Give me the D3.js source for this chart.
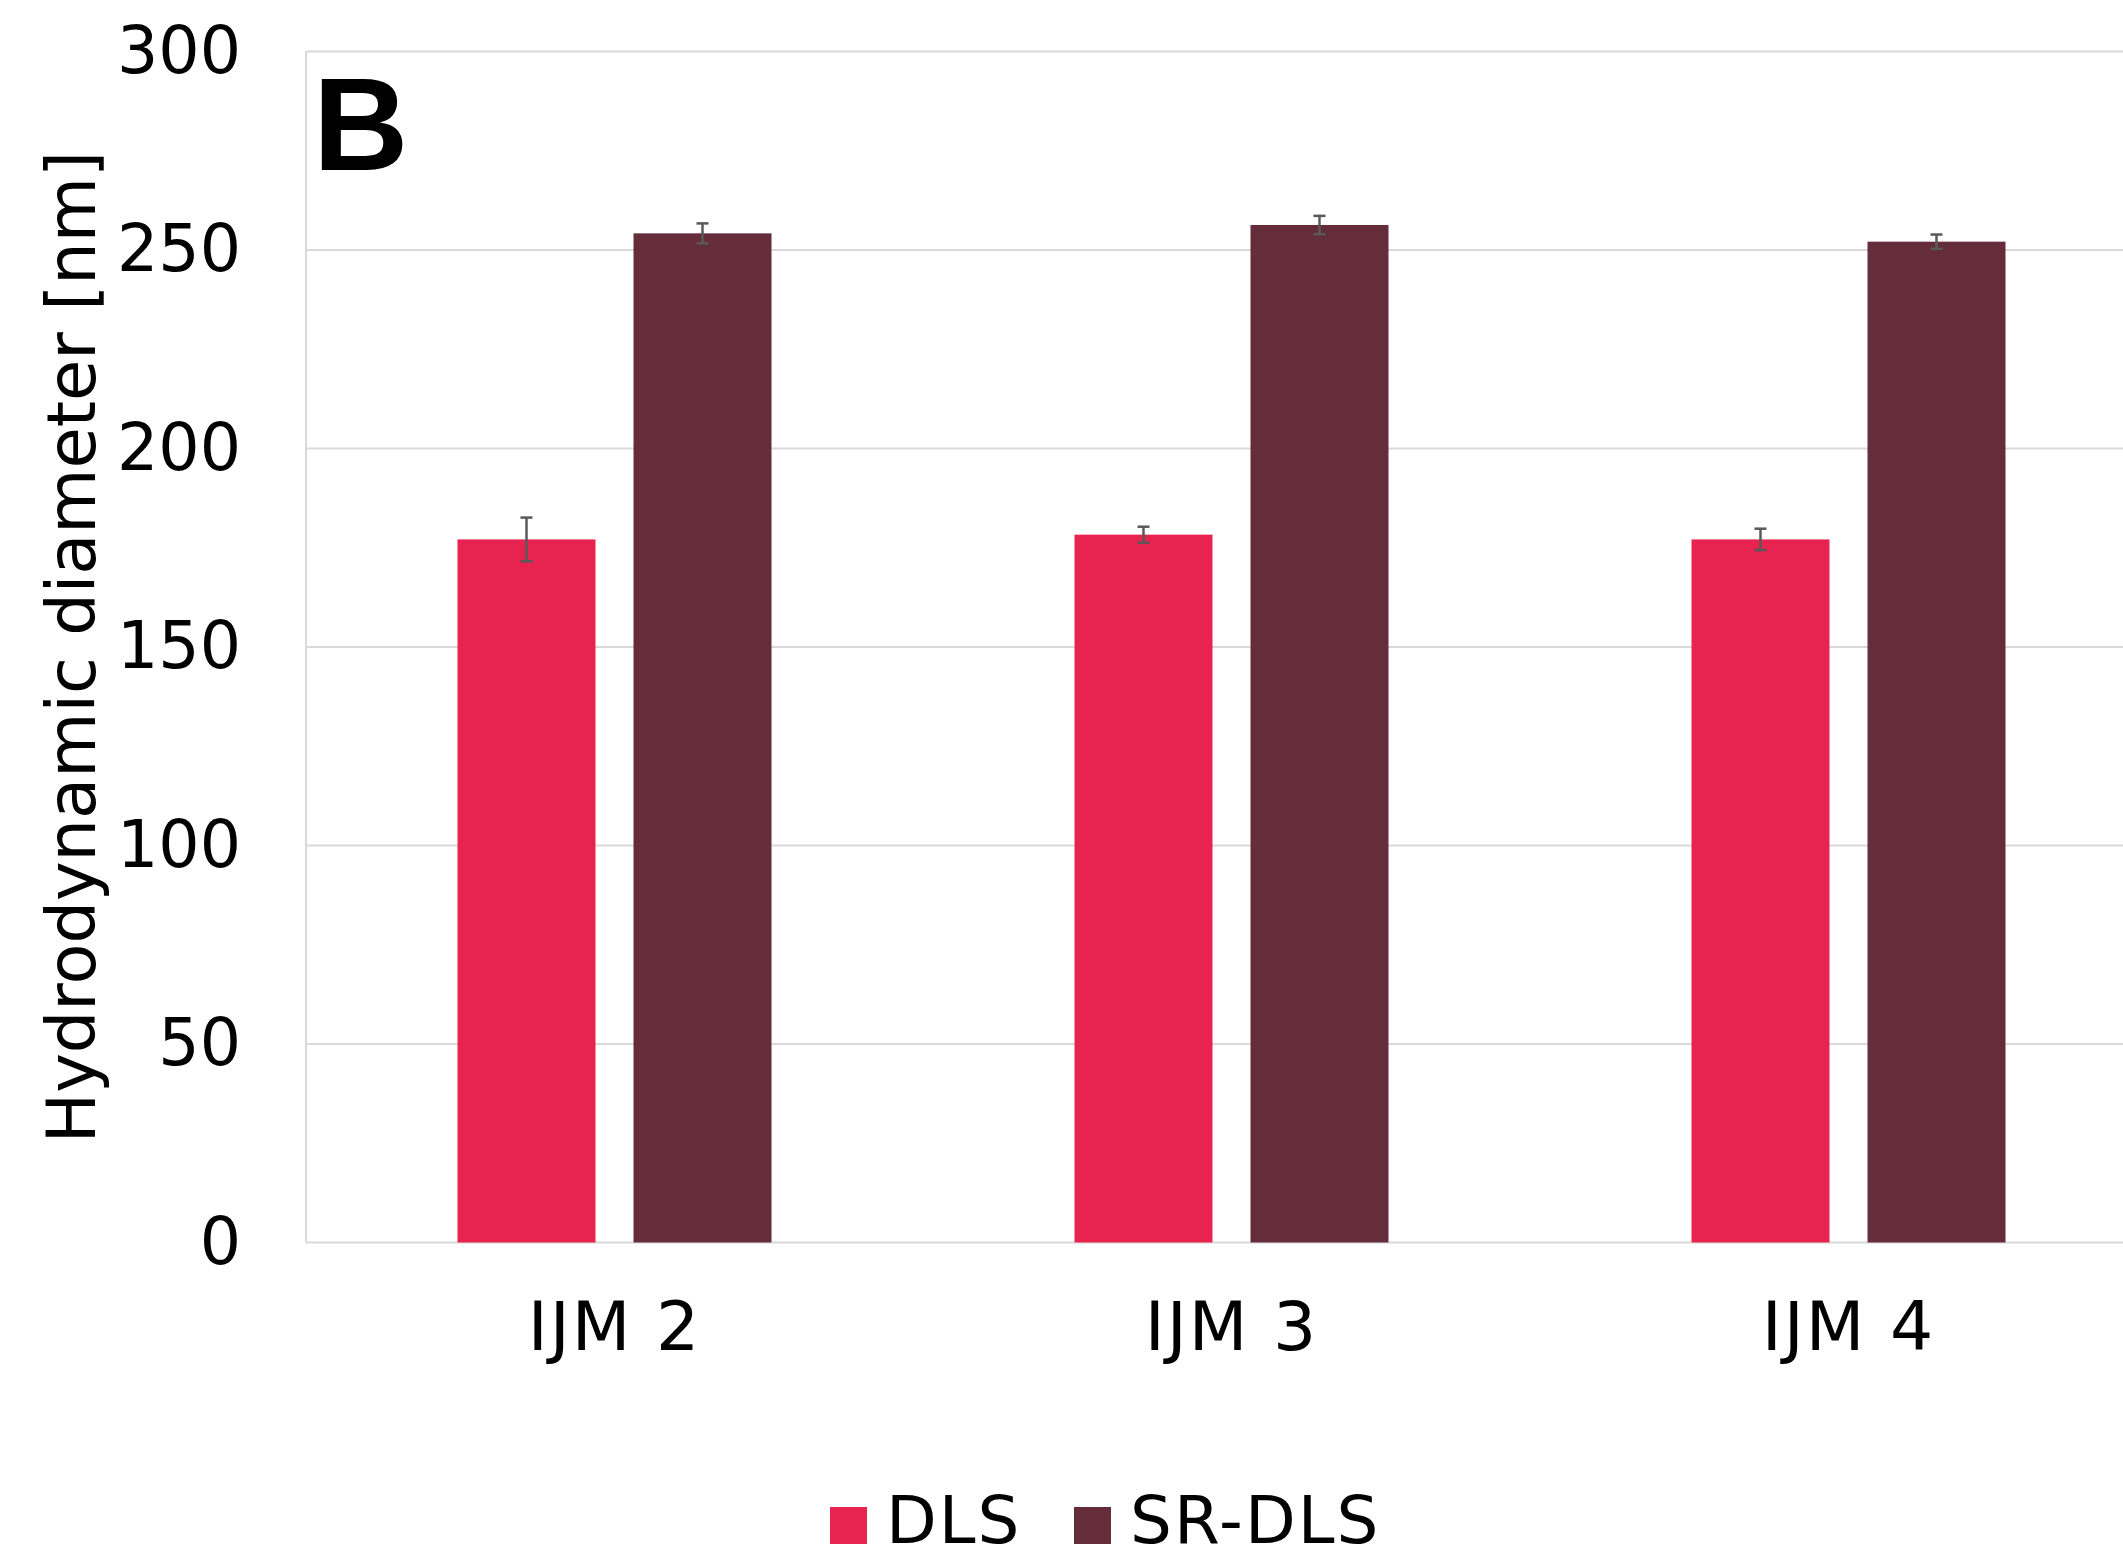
<!DOCTYPE html>
<html>
<head>
<meta charset="utf-8">
<script src="https://cdn.jsdelivr.net/npm/d3@7"></script>
<style>
  body { margin: 0; background: #fff; }
  svg { display: block; }
</style>
</head>
<body>
<svg id="chart"></svg>
<script>
// hydrodynamic diameter, DLS vs SR-DLS
const categories = ["IJM 2", "IJM 3", "IJM 4"];
const series = ["DLS", "SR-DLS"];
const dlsValues = [177.1, 178.3, 177.1];
const dlsErrors = [5.5, 2.0, 2.7];
const srdlsValues = [254.2, 256.3, 252.1];
const srdlsErrors = [2.5, 2.3, 1.8];
const yTicks = [0, 50, 100, 150, 200, 250, 300];

const width = 2123,
  height = 1558,
  margin = { top: 51.5, right: -34, bottom: 315.5, left: 306 };

const colors = d3.scaleOrdinal(series, ["#e8234f", "#652d3a"]);
const font = "'DejaVu Sans', sans-serif";

const data = categories.map((c, i) => ({
  category: c,
  bars: [
    { key: "DLS", value: dlsValues[i], err: dlsErrors[i] },
    { key: "SR-DLS", value: srdlsValues[i], err: srdlsErrors[i] }
  ]
}));

const xScale = d3.scaleBand(categories, [margin.left, width - margin.right]);
const groupPad = 151.5;
const xSub = d3
  .scaleBand(series, [groupPad, xScale.bandwidth() - groupPad])
  .paddingInner(0.216);

const yScale = d3.scaleLinear([0, 300], [height - margin.bottom, margin.top]);

const svg = d3.select("svg#chart").attr("width", width).attr("height", height);

// gridlines
svg
  .append("g")
  .selectAll("line")
  .data(yTicks)
  .join("line")
  .attr("x1", margin.left)
  .attr("x2", width)
  .attr("y1", d => yScale(d))
  .attr("y2", d => yScale(d))
  .style("stroke", "#d9d9d9")
  .style("stroke-width", 2);

svg
  .append("line")
  .attr("x1", margin.left)
  .attr("x2", margin.left)
  .attr("y1", yScale(300))
  .attr("y2", yScale(0))
  .style("stroke", "#d9d9d9")
  .style("stroke-width", 2);

// bars
const groups = svg
  .append("g")
  .selectAll("g")
  .data(data)
  .join("g")
  .attr("transform", d => `translate(${xScale(d.category)},0)`);

groups
  .selectAll("rect")
  .data(d => d.bars)
  .join("rect")
  .attr("x", d => xSub(d.key))
  .attr("width", xSub.bandwidth())
  .attr("y", d => yScale(d.value))
  .attr("height", d => yScale(0) - yScale(d.value))
  .style("fill", d => colors(d.key));

// error bars
const errs = groups
  .selectAll("g.err")
  .data(d => d.bars)
  .join("g")
  .attr("class", "err")
  .attr("transform", d => `translate(${xSub(d.key) + xSub.bandwidth() / 2},0)`)
  .style("stroke", "#595959")
  .style("stroke-width", 2.5);

errs
  .append("line")
  .attr("y1", d => yScale(d.value + d.err))
  .attr("y2", d => yScale(d.value - d.err));
errs
  .append("line")
  .attr("x1", -6)
  .attr("x2", 6)
  .attr("y1", d => yScale(d.value + d.err))
  .attr("y2", d => yScale(d.value + d.err));
errs
  .append("line")
  .attr("x1", -6)
  .attr("x2", 6)
  .attr("y1", d => yScale(d.value - d.err))
  .attr("y2", d => yScale(d.value - d.err));

// y axis
const yAxis = d3.axisLeft(yScale).tickValues(yTicks).tickSize(0).tickPadding(0);
svg
  .append("g")
  .attr("transform", `translate(241,0)`)
  .call(yAxis)
  .call(g => g.select(".domain").remove())
  .selectAll("text")
  .style("font-family", font)
  .style("font-size", "65px")
  .style("fill", "#000");

// x axis
const xAxis = d3.axisBottom(xScale).tickSize(0).tickPadding(0);
svg
  .append("g")
  .attr("transform", `translate(0,${yScale(0)})`)
  .call(xAxis)
  .call(g => g.select(".domain").remove())
  .selectAll("text")
  .attr("y", 84)
  .attr("dy", "0.35em")
  .style("font-family", font)
  .style("font-size", "68px")
  .style("letter-spacing", "2px")
  .style("fill", "#000");

// y label
svg
  .append("text")
  .attr("transform", "translate(72,647) rotate(-90)")
  .attr("text-anchor", "middle")
  .attr("dy", "0.35em")
  .style("font-family", font)
  .style("font-size", "67px")
  .text("Hydrodynamic diameter [nm]");

// panel letter
svg
  .append("text")
  .attr("x", 313)
  .attr("y", 170)
  .style("font-family", "'Liberation Sans', Arial, sans-serif")
  .style("font-weight", "bold")
  .style("font-size", "132px")
  .text("B");

// legend
const legend = svg
  .append("g")
  .selectAll("g")
  .data(series)
  .join("g")
  .attr("transform", (d, i) => `translate(${[830, 1074][i]},1507)`);

legend
  .append("rect")
  .attr("width", 37)
  .attr("height", 37)
  .style("fill", d => colors(d));

legend
  .append("text")
  .attr("x", 56)
  .attr("y", 13)
  .attr("dy", "0.35em")
  .style("font-family", font)
  .style("font-size", "66px")
  .style("letter-spacing", "2px")
  .text(d => d);
</script>
</body>
</html>
